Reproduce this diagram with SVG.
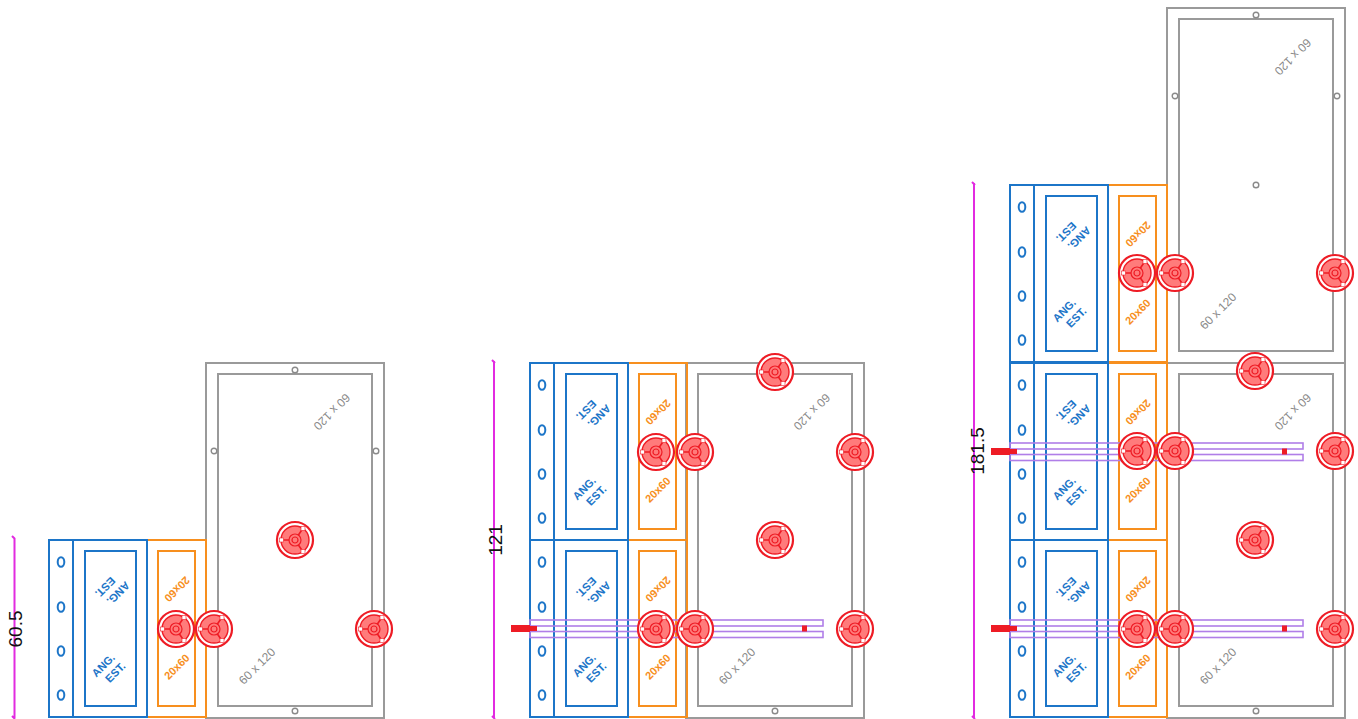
<svg xmlns="http://www.w3.org/2000/svg" xmlns:xlink="http://www.w3.org/1999/xlink" width="1358" height="719" viewBox="0 0 1358 719">
<style>
.b{fill:none;stroke:#1c75c8;stroke-width:2}
.o{fill:none;stroke:#f78f1e;stroke-width:2}
.g{fill:none;stroke:#9a9a9a;stroke-width:2}
.s{fill:#fff;stroke:#8a8a8a;stroke-width:1.4}
.m{fill:none;stroke:#e22be0;stroke-width:2}
.p{fill:none;stroke:#b07ee8;stroke-width:1.6}
.t{font-family:"Liberation Sans",Arial,sans-serif}
.tb{font-size:11px;font-weight:bold;fill:#1c75c8}
.to{font-size:11px;font-weight:bold;fill:#f78f1e}
.tg{font-size:12px;fill:#8a8a8a}
.d{font-size:19px;fill:#111}
</style>
<defs>
<g id="hub">
<circle r="18" fill="#fff" stroke="#ee1c25" stroke-width="2.2"/>
<circle r="14" fill="#ff7b7b" stroke="#ee1c25" stroke-width="1.4"/>
<path d="M-13 0H0M0 0L7.5 -11M0 0L7.5 11" fill="none" stroke="#ee1c25" stroke-width="1.6"/>
<g fill="#fff" stroke="#ee1c25" stroke-width=".6">
<rect x="-15.5" y="-2" width="4" height="4"/>
<rect x="6" y="-13.5" width="4" height="4"/>
<rect x="6" y="9.5" width="4" height="4"/>
</g>
<circle r="6" fill="#ff7b7b" stroke="#ee1c25" stroke-width="1.2"/>
<circle r="3" fill="none" stroke="#ee1c25" stroke-width="1.2"/>
</g>
<g id="bluecell">
<rect class="o" x="98" y="0" width="59" height="177"/>
<rect class="o" x="109" y="11" width="37" height="155"/>
<rect class="b" x="0" y="0" width="24" height="177"/>
<rect class="b" x="24" y="0" width="74" height="177"/>
<rect class="b" x="36" y="11" width="51" height="155"/>
<g fill="none" stroke="#1c75c8" stroke-width="2">
<ellipse cx="12" cy="22" rx="3.3" ry="4.8"/>
<ellipse cx="12" cy="67" rx="3.3" ry="4.8"/>
<ellipse cx="12" cy="111" rx="3.3" ry="4.8"/>
<ellipse cx="12" cy="155" rx="3.3" ry="4.8"/>
</g>
<g class="t tb" text-anchor="middle">
<text transform="translate(57 128) rotate(-45)">ANG.</text>
<text transform="translate(69 135) rotate(-45)">EST.</text>
<text transform="translate(66.5 50.5) rotate(135)">ANG.</text>
<text transform="translate(53.5 44.5) rotate(135)">EST.</text>
</g>
<g class="t to" text-anchor="middle">
<text transform="translate(130.5 129.5) rotate(-45)">20x60</text>
<text transform="translate(125.5 46.5) rotate(135)">20x60</text>
</g>
</g>
<g id="grey">
<rect class="g" x="0" y="0" width="178" height="355"/>
<rect class="g" x="12" y="11" width="154" height="332"/>
<circle class="s" cx="89" cy="7" r="2.8"/>
<circle class="s" cx="89" cy="348" r="2.8"/>
<circle class="s" cx="8" cy="88" r="2.8"/>
<circle class="s" cx="170" cy="88" r="2.8"/>
<circle class="s" cx="89" cy="177" r="2.8"/>
<text class="t tg" text-anchor="middle" transform="translate(54 306) rotate(-45)">60 x 120</text>
<text class="t tg" text-anchor="middle" transform="translate(123 46) rotate(135)">60 x 120</text>
</g>
<g id="bars">
<rect class="p" x="0" y="-8.5" width="293" height="6"/>
<rect class="p" x="0" y="3" width="293" height="6"/>
<rect x="-19" y="-3.5" width="19" height="7" fill="#ee1c25"/>
<rect x="0" y="-2.5" width="7" height="5" fill="#ee1c25"/>
<rect x="272" y="-3" width="5" height="6" fill="#ee1c25"/>
</g>
</defs>
<g id="module-1">
<use xlink:href="#grey" href="#grey" x="206" y="363"/>
<use xlink:href="#bluecell" href="#bluecell" x="49" y="540"/>
<g id="dim-1"><path class="m" d="M14.500 538V718M12 536L15 539M12 716L15 719"/><text class="t d" text-anchor="middle" transform="translate(22 629) rotate(-90)">60.5</text></g>
<use xlink:href="#hub" href="#hub" x="295" y="540"/>
<use xlink:href="#hub" href="#hub" x="176" y="629"/>
<use xlink:href="#hub" href="#hub" x="214" y="629"/>
<use xlink:href="#hub" href="#hub" x="374" y="629"/>
</g>
<g id="module-2">
<use xlink:href="#grey" href="#grey" x="686" y="363"/>
<use xlink:href="#bluecell" href="#bluecell" x="530" y="363"/>
<use xlink:href="#bluecell" href="#bluecell" x="530" y="540"/>
<use xlink:href="#bars" href="#bars" x="530" y="628.500"/>
<g id="dim-2"><path class="m" d="M494 361V718M492 360L495 363M492 716L495 719"/><text class="t d" text-anchor="middle" transform="translate(502 540) rotate(-90)">121</text></g>
<use xlink:href="#hub" href="#hub" x="775" y="372"/>
<use xlink:href="#hub" href="#hub" x="656" y="452"/>
<use xlink:href="#hub" href="#hub" x="695" y="452"/>
<use xlink:href="#hub" href="#hub" x="855" y="452"/>
<use xlink:href="#hub" href="#hub" x="775" y="540"/>
<use xlink:href="#hub" href="#hub" x="656" y="629"/>
<use xlink:href="#hub" href="#hub" x="695" y="629"/>
<use xlink:href="#hub" href="#hub" x="855" y="629"/>
</g>
<g id="module-3">
<use xlink:href="#grey" href="#grey" x="1167" y="8"/>
<use xlink:href="#grey" href="#grey" x="1167" y="363"/>
<use xlink:href="#bluecell" href="#bluecell" x="1010" y="185"/>
<use xlink:href="#bluecell" href="#bluecell" x="1010" y="363"/>
<use xlink:href="#bluecell" href="#bluecell" x="1010" y="540"/>
<use xlink:href="#bars" href="#bars" x="1010" y="451.500"/>
<use xlink:href="#bars" href="#bars" x="1010" y="628.500"/>
<g id="dim-3"><path class="m" d="M974 183V718M972 182L975 185M972 716L975 719"/><text class="t d" text-anchor="middle" transform="translate(984 451) rotate(-90)">181.5</text></g>
<use xlink:href="#hub" href="#hub" x="1137" y="273"/>
<use xlink:href="#hub" href="#hub" x="1175" y="273"/>
<use xlink:href="#hub" href="#hub" x="1335" y="273"/>
<use xlink:href="#hub" href="#hub" x="1255" y="371"/>
<use xlink:href="#hub" href="#hub" x="1137" y="451"/>
<use xlink:href="#hub" href="#hub" x="1175" y="451"/>
<use xlink:href="#hub" href="#hub" x="1335" y="451"/>
<use xlink:href="#hub" href="#hub" x="1255" y="540"/>
<use xlink:href="#hub" href="#hub" x="1137" y="629"/>
<use xlink:href="#hub" href="#hub" x="1175" y="629"/>
<use xlink:href="#hub" href="#hub" x="1335" y="629"/>
</g>
</svg>
